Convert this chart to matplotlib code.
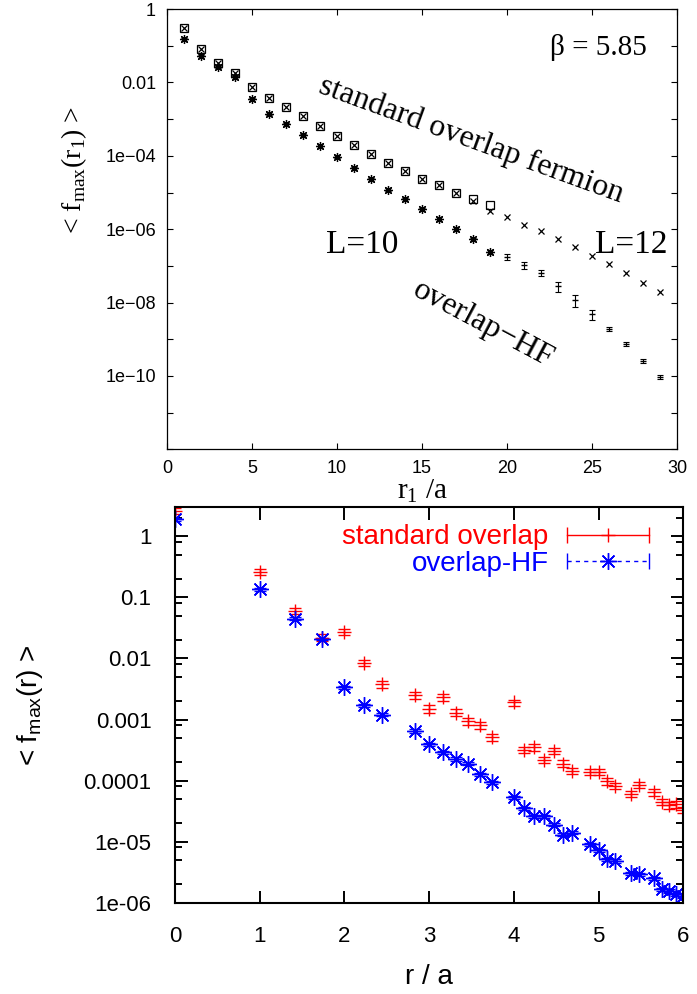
import matplotlib
matplotlib.use('Agg')
import matplotlib.pyplot as plt
from matplotlib.lines import Line2D
from matplotlib.legend_handler import HandlerLine2D
from matplotlib.ticker import LogLocator, NullLocator, NullFormatter

# ---- top panel: beta = 5.85, f_max vs r_1 ----
r_l10 = list(range(1, 20))
r_l12 = list(range(1, 30))

std_l10 = [0.30, 0.080, 0.034, 0.018, 7.6e-3, 3.8e-3, 2.1e-3, 1.2e-3, 6.5e-4, 3.5e-4,
           2.0e-4, 1.1e-4, 6.2e-5, 3.9e-5, 2.3e-5, 1.6e-5, 9.5e-6, 6.5e-6, 4.6e-6]
std_l12 = [0.30, 0.080, 0.034, 0.018, 7.6e-3, 3.8e-3, 2.1e-3, 1.2e-3, 6.5e-4, 3.5e-4,
           2.0e-4, 1.1e-4, 6.2e-5, 3.9e-5, 2.3e-5, 1.6e-5, 9.5e-6, 5.9e-6, 3.2e-6, 2.1e-6,
           1.3e-6, 8.9e-7, 5.3e-7, 3.3e-7, 1.9e-7, 1.1e-7, 6.3e-8, 3.5e-8, 2.0e-8]
hf_l10 = [0.15, 0.052, 0.027, 0.014, 3.5e-3, 1.4e-3, 7.3e-4, 3.6e-4, 1.85e-4, 9.5e-5,
          4.6e-5, 2.3e-5, 1.2e-5, 6.5e-6, 3.5e-6, 1.9e-6, 1.0e-6, 5.3e-7, 2.4e-7]
hf_l12 = [0.15, 0.052, 0.027, 0.014, 3.5e-3, 1.4e-3, 7.3e-4, 3.6e-4, 1.85e-4, 9.5e-5,
          4.6e-5, 2.3e-5, 1.2e-5, 6.5e-6, 3.5e-6, 1.9e-6, 1.0e-6, 5.3e-7, 2.4e-7, 1.8e-7,
          1.05e-7, 6.5e-8, 2.8e-8, 1.2e-8, 4.8e-9, 1.9e-9, 7.4e-10, 2.6e-10, 9.6e-11]
hf_l12_err = [0.015, 0.005, 0.003, 0.0014, 3.5e-4, 1.4e-4, 7e-5, 4e-5, 2e-5, 1e-5,
              5e-6, 2.5e-6, 1.3e-6, 7e-7, 4e-7, 2.2e-7, 1.2e-7, 6e-8, 3e-8, 3.6e-8,
              2.1e-8, 1.3e-8, 8e-9, 4.2e-9, 1.4e-9, 2.3e-10, 9e-11, 3e-11, 1.1e-11]

top_yticks = [1, 1e-1, 1e-2, 1e-3, 1e-4, 1e-5, 1e-6, 1e-7, 1e-8, 1e-9, 1e-10, 1e-11, 1e-12]
top_ylabels = ['1', '', '0.01', '', '1e\u221204', '', '1e\u221206', '', '1e\u221208', '',
               '1e\u221210', '', '']

# ---- bottom panel: f_max vs r ----
r_bot = [0, 1, 1.414, 1.732, 2, 2.236, 2.449, 2.828, 3, 3.162, 3.317, 3.464, 3.606, 3.742,
         4, 4.123, 4.243, 4.359, 4.472, 4.583, 4.690, 4.899, 5, 5.099, 5.196, 5.385, 5.477,
         5.657, 5.745, 5.831, 5.916, 6]
std_bot = [2.6, 0.26, 0.061, 0.022, 0.027, 0.0085, 0.0038, 0.0025, 0.0015, 0.0023, 0.0013,
           9.3e-4, 8.0e-4, 5.1e-4, 0.0019, 3.2e-4, 3.5e-4, 2.2e-4, 3.1e-4, 1.9e-4, 1.45e-4,
           1.4e-4, 1.4e-4, 9.7e-5, 8.2e-5, 6.0e-5, 8.5e-5, 6.4e-5, 4.4e-5, 3.9e-5, 4.1e-5, 3.3e-5]
std_err = [0.3, 0.03, 0.007, 0.003, 0.003, 0.001, 0.0005, 0.0003, 0.0002, 0.0003, 0.00016,
           0.00011, 0.0001, 6e-5, 0.00022, 4e-5, 4e-5, 2.7e-5, 3.7e-5, 2.3e-5, 1.7e-5,
           1.7e-5, 1.7e-5, 1.2e-5, 1e-5, 7e-6, 1e-5, 8e-6, 5e-6, 5e-6, 5e-6, 4e-6]
hf_bot = [1.9, 0.136, 0.045, 0.021, 0.0034, 0.0017, 0.0012, 6.5e-4, 3.9e-4, 2.9e-4, 2.26e-4,
          1.9e-4, 1.26e-4, 9.3e-5, 5.3e-5, 3.5e-5, 2.6e-5, 2.6e-5, 1.9e-5, 1.3e-5, 1.4e-5,
          9.1e-6, 7.2e-6, 5.1e-6, 4.8e-6, 3.0e-6, 2.9e-6, 2.5e-6, 1.65e-6, 1.55e-6, 1.36e-6, 1.28e-6]
hf_err = [0.1, 0.008, 0.003, 0.001, 0.0002, 1e-4, 7e-5, 4e-5, 2.3e-5, 1.7e-5, 1.4e-5,
          1.1e-5, 8e-6, 6e-6, 3e-6, 2e-6, 1.6e-6, 1.6e-6, 1.1e-6, 8e-7, 8e-7, 5e-7, 4e-7,
          3e-7, 3e-7, 1.8e-7, 1.7e-7, 1.5e-7, 1e-7, 9e-8, 8e-8, 8e-8]

bot_yticks = [1, 0.1, 0.01, 0.001, 1e-4, 1e-5, 1e-6]
bot_ylabels = ['1', '0.1', '0.01', '0.001', '0.0001', '1e-05', '1e-06']

SANS = 'Liberation Sans'
SERIF = 'Liberation Serif'
plt.rcParams['font.family'] = SANS

fig = plt.figure(figsize=(6.97, 9.94), dpi=100)

# ================= top panel =================
ax1 = fig.add_axes([0.2396, 0.5479, 0.7317, 0.4430])
ax1.set_yscale('log')
ax1.plot(r_l10, std_l10, ls='none', marker='s', mfc='none', mec='k', ms=5.8, mew=0.9)
ax1.plot(r_l12, std_l12, ls='none', marker='x', color='k', ms=4.6, mew=0.9)
ax1.plot(r_l10, hf_l10, ls='none', marker=(8, 2, 0), color='k', ms=6.5, mew=0.9)
ax1.errorbar(r_l12, hf_l12, yerr=hf_l12_err, fmt='_', color='k', ms=4,
             capsize=2.3, elinewidth=0.8, capthick=0.8)

ax1.set_xlim(0, 30)
ax1.set_ylim(1e-12, 1)
ax1.set_xticks([0, 5, 10, 15, 20, 25, 30])
ax1.set_yticks(top_yticks, top_ylabels)
ax1.yaxis.set_minor_locator(NullLocator())
ax1.tick_params(direction='in', top=True, right=True, length=4, width=0.8,
                labelsize=13, pad=8)
for s in ax1.spines.values():
    s.set_linewidth(0.9)

ax1.set_xlabel(r'r$_\mathregular{1}$ /a', family=SERIF, fontsize=21, labelpad=0)
ax1.set_ylabel(r'< f$_\mathregular{max}$(r$_\mathregular{1}$) >', family=SERIF, fontsize=20)
ax1.yaxis.set_label_coords(-0.153, 0.635)

ax1.text(17.9, 2.7e-4, 'standard overlap fermion', rotation=-20, ha='center', va='center',
         family=SERIF, fontsize=23)
ax1.text(18.6, 2.5e-9, 'overlap\u2212HF', rotation=-28, ha='center', va='center',
         family=SERIF, fontsize=23)
ax1.text(11.5, 3.7e-7, 'L=10', ha='center', va='center', family=SERIF, fontsize=24)
ax1.text(27.3, 3.7e-7, 'L=12', ha='center', va='center', family=SERIF, fontsize=24)
ax1.text(25.4, 0.09, '\u03b2 = 5.85', ha='center', va='center', family=SERIF, fontsize=21)

# ================= bottom panel =================
ax2 = fig.add_axes([0.2511, 0.0920, 0.7292, 0.3976])
ax2.set_yscale('log')
ax2.errorbar(r_bot, std_bot, yerr=std_err, fmt='+', color='red', ms=10, mew=1.0,
             capsize=4, elinewidth=1.0, capthick=1.0)
ax2.errorbar(r_bot, hf_bot, yerr=hf_err, marker=(8, 2, 0), color='blue', ms=12, mew=1.0,
             linestyle='none', capsize=4, elinewidth=1.0, capthick=1.0)

ax2.set_xlim(0, 6)
ax2.set_ylim(1e-6, 3.0)
ax2.set_xticks([0, 1, 2, 3, 4, 5, 6])
ax2.set_yticks(bot_yticks, bot_ylabels)
ax2.yaxis.set_minor_locator(LogLocator(base=10, subs=(2, 5, 8), numticks=20))
ax2.yaxis.set_minor_formatter(NullFormatter())
ax2.tick_params(which='major', direction='in', top=True, right=True, length=9, width=1.4,
                labelsize=16, pad=17)
ax2.tick_params(which='minor', direction='in', top=True, right=True, length=5, width=1.4)
for s in ax2.spines.values():
    s.set_linewidth(1.5)

ax2.set_xlabel('r / a', fontsize=20, labelpad=12)
ax2.set_ylabel(r'< f$_\mathregular{max}$(r) >', fontsize=20)
ax2.yaxis.set_label_coords(-0.255, 0.5)

# gnuplot-style legend keys: horizontal line with end caps, point in the middle
red_line = Line2D([], [], color='red', lw=1.0, marker='|', ms=12, mew=1.0)
red_pt = Line2D([], [], color='red', ls='none', marker='+', ms=10, mew=1.0)
blue_line = Line2D([], [], color='blue', lw=1.0, ls=(0, (3, 3)), marker='|', ms=12, mew=1.0)
blue_pt = Line2D([], [], color='blue', ls='none', marker=(8, 2, 0), ms=12, mew=1.0)
leg = ax2.legend([(red_line, red_pt), (blue_line, blue_pt)],
                 ['standard overlap', 'overlap-HF'],
                 handler_map={red_line: HandlerLine2D(numpoints=2, marker_pad=0),
                              blue_line: HandlerLine2D(numpoints=2, marker_pad=0)},
                 loc='upper right', bbox_to_anchor=(0.982, 1.02), frameon=False,
                 markerfirst=False, fontsize=20, handlelength=2.95, handletextpad=0.67,
                 labelspacing=0.02, numpoints=1)
leg.get_texts()[0].set_color('red')
leg.get_texts()[1].set_color('blue')

fig.savefig('out.png', dpi=100)
